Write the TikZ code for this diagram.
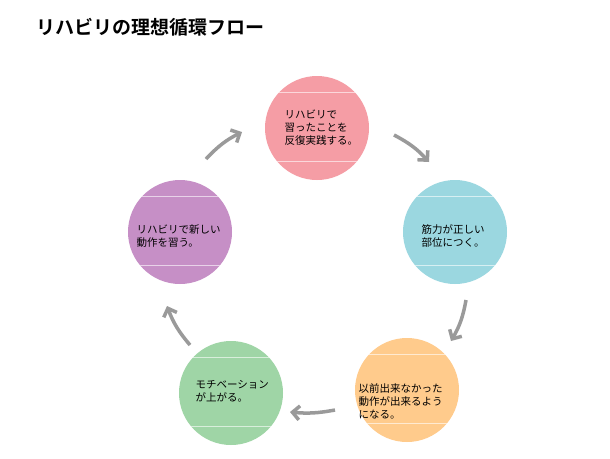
\documentclass[tikz,border=0pt]{standalone}
\usepackage{fontspec}
\setmainfont{Noto Sans CJK JP}
\newfontfamily\jpb{Noto Sans CJK JP}[BoldFont=* Bold]
\usetikzlibrary{arrows.meta}
\definecolor{cpink}{HTML}{F59DA5}
\definecolor{cblue}{HTML}{9BD7E0}
\definecolor{corange}{HTML}{FFCB8C}
\definecolor{cgreen}{HTML}{9FD5A6}
\definecolor{cpurple}{HTML}{C68FC6}
\definecolor{carr}{HTML}{9A9A9A}
\begin{document}
\begin{tikzpicture}[x=1pt,y=-1pt,
  bubble/.style={circle,minimum size=104pt,inner sep=0pt},
  lbl/.style={font=\fontsize{10.5}{13}\selectfont,align=left,text=black},
  flow/.style={carr,line width=3.5pt,-{Straight Barb[length=7pt,width=14pt]}}]
\useasboundingbox[fill=white] (0,0) rectangle (610,458);
\node[anchor=west,font=\jpb\bfseries\fontsize{19}{22}\selectfont] (title) at (33,27) {リハビリの理想循環フロー};
\foreach \n/\x/\y/\c in {a/317/128/cpink,b/455/232/cblue,c/407/390/corange,d/231/393/cgreen,e/180/232/cpurple}{
  \node[bubble,fill=\c] (\n) at (\x,\y) {};
  \begin{scope}
  \clip (\x,\y) circle (52);
  \draw[white,opacity=0.6,line width=0.7pt] (\x-60,\y-36) -- (\x+60,\y-36) (\x-60,\y+33) -- (\x+60,\y+33);
  \end{scope}
}
\node[lbl,anchor=west] (ta) at (281,128) {リハビリで\\習ったことを\\反復実践する。};
\node[lbl,anchor=west] (tb) at (418,236) {筋力が正しい\\部位につく。};
\node[lbl,anchor=west] (tc) at (355,401) {以前出来なかった\\動作が出来るよう\\になる。};
\node[lbl,anchor=west] (td) at (192,391) {モチベーション\\が上がる。};
\node[lbl,anchor=west] (te) at (133,236) {リハビリで新しい\\動作を習う。};
\coordinate (a1) at (394,135); \coordinate (a2) at (429,162);
\coordinate (b1) at (466,300); \coordinate (b2) at (451,341);
\coordinate (c1) at (335,410); \coordinate (c2) at (290,412);
\coordinate (d1) at (190,345); \coordinate (d2) at (167,306);
\coordinate (e1) at (206,159); \coordinate (e2) at (242,132);
\draw[flow] (a1) to[bend left=10] (a2);
\draw[flow] (b1) to[bend left=10] (b2);
\draw[flow] (c1) to[bend left=8] (c2);
\draw[flow] (d1) to[bend left=10] (d2);
\draw[flow] (e1) to[bend left=10] (e2);
\end{tikzpicture}
\end{document}
